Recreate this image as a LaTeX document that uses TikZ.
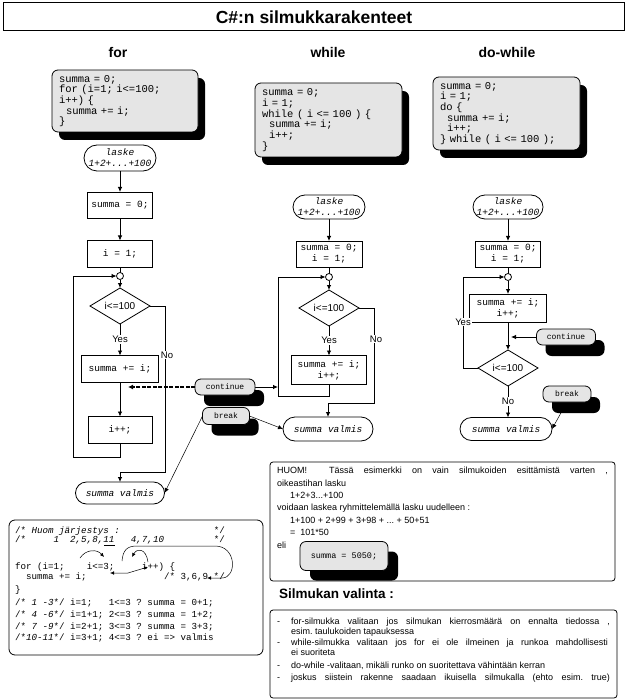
\documentclass[tikz,border=0pt]{standalone}
\usepackage{fontspec}
\setmainfont{Liberation Sans}
\setsansfont{Liberation Sans}
\setmonofont{Liberation Mono}
\usetikzlibrary{shapes.geometric,arrows.meta,shadows}
\pgfdeclarelayer{background}
\pgfsetlayers{background,main}
\definecolor{boxgray}{RGB}{229,229,229}
\frenchspacing
\begin{document}
\begin{tikzpicture}[x=1pt,y=-1pt,
  every node/.style={inner sep=0pt, outer sep=0pt},
  ln/.style={line width=0.8pt},
  arr/.style={ln, -{Latex[length=5pt,width=4.5pt]}},
  thinarr/.style={line width=0.5pt, -{Latex[length=5pt,width=4.5pt]}},
  smallarr/.style={line width=0.5pt, -{Latex[length=4pt,width=3.5pt]}},
  codebox/.style={draw, line width=0.8pt, fill=boxgray, rounded corners=6pt, align=left, inner xsep=7pt,
     font=\ttfamily\fontsize{10.5}{10.7}\selectfont,
     drop shadow={shadow xshift=7pt, shadow yshift=-8pt, fill=black, opacity=1}},
  fbox/.style={draw, line width=0.8pt, fill=white, align=center, font=\ttfamily\fontsize{9.5}{11}\selectfont},
  term/.style={draw, line width=0.8pt, fill=white, align=center, font=\ttfamily\itshape\fontsize{9.5}{11}\selectfont},
  junc/.style={draw, line width=0.8pt, circle, fill=white, minimum size=7pt},
  dec/.style={draw, line width=0.8pt, diamond, fill=white, minimum width=60pt, minimum height=36pt, shape aspect=1.7,
     font=\sffamily\fontsize{10}{10}\selectfont},
  lbl/.style={fill=white, inner sep=1pt, font=\sffamily\fontsize{9.5}{10}\selectfont},
  pill/.style={draw, line width=0.8pt, fill=boxgray, rounded corners=6pt, font=\ttfamily\fontsize{8}{9}\selectfont,
     drop shadow={shadow xshift=9pt, shadow yshift=-11pt, fill=black, opacity=1}},
  txt/.style={anchor=mid west, font=\sffamily\fontsize{9}{10}\selectfont\frenchspacing},
  code/.style={anchor=mid west, font=\ttfamily\fontsize{9.2}{10}\selectfont},
  head/.style={font=\sffamily\bfseries\fontsize{14}{14}\selectfont},
]
\useasboundingbox (0,0) rectangle (628,700);

% title
\node[draw, line width=1pt, minimum width=621pt, minimum height=28pt] (title) at (314,17)
  {\sffamily\bfseries\fontsize{17.5}{18}\selectfont C\#:n silmukkarakenteet};

% headings
\node[head] (hfor) at (118,52) {for};
\node[head] (hwhile) at (328,52) {while};
\node[head] (hdo) at (507,52) {do-while};

% code boxes
\node[codebox, text width=132pt, minimum height=62pt] (cfor) at (125,101)
  {summa = 0;\\for (i=1; i<=100;\\i++) \{\\~~summa += i;\\\}};
\node[codebox, text width=133pt, minimum height=74pt] (cwhile) at (328.5,120)
  {summa = 0;\\i = 1;\\while ( i <= 100 ) \{\\~~summa += i;\\~~i++;\\\}};
\node[codebox, text width=133pt, minimum height=73pt] (cdo) at (506.5,113.5)
  {summa = 0;\\i = 1;\\do \{\\~~summa += i;\\~~i++;\\\} while ( i <= 100 );};

% ---------------- for flowchart
\node[term, minimum width=72pt, minimum height=26pt, rounded corners=13pt] (t1) at (120,158) {laske\\1+2+...+100};
\node[fbox, minimum width=65pt, minimum height=26pt] (s1) at (120,205) {summa = 0;};
\node[fbox, minimum width=65pt, minimum height=27pt] (i1) at (120,254) {i = 1;};
\node[junc] (c1) at (120,276) {};
\node[dec] (d1) at (120,306) {i<=100};
\node[fbox, minimum width=77pt, minimum height=27pt] (b1) at (120,369) {summa += i;};
\node[fbox, minimum width=64pt, minimum height=27pt] (p1) at (120,430) {i++;};
\node[term, minimum width=89pt, minimum height=22pt, rounded corners=11pt] (v1) at (120,493) {summa valmis};
\coordinate (L1) at (73,457);
\coordinate (N1) at (165,472);
\node[lbl] (no1) at (167,355) {No};

% ---------------- while flowchart
\node[term, minimum width=72pt, minimum height=24pt, rounded corners=12pt] (t2) at (329,207) {laske\\1+2+...+100};
\node[fbox, minimum width=66pt, minimum height=26pt] (s2) at (329,254) {summa = 0;\\i = 1;};
\node[junc] (c2) at (329,277) {};
\node[dec] (d2) at (329,308) {i<=100};
\node[fbox, minimum width=75pt, minimum height=29pt] (b2) at (329,370) {summa += i;\\i++;};
\node[term, minimum width=90pt, minimum height=24pt, rounded corners=12pt] (v2) at (328,429) {summa valmis};
\coordinate (L2) at (278,396);
\coordinate (N2) at (374,403);
\coordinate (cw) at (278,387);
\node[lbl] (no2) at (376,339) {No};

% ---------------- do-while flowchart
\node[term, minimum width=70pt, minimum height=24pt, rounded corners=12pt] (t3) at (508,207) {laske\\1+2+...+100};
\node[fbox, minimum width=65pt, minimum height=26pt] (s3) at (508,254) {summa = 0;\\i = 1;};
\node[junc] (c3) at (508,277) {};
\node[fbox, minimum width=77pt, minimum height=28pt] (b3) at (508,308) {summa += i;\\i++;};
\node[dec] (d3) at (508,368) {i<=100};
\node[term, minimum width=92pt, minimum height=23pt, rounded corners=11.5pt] (v3) at (506,429) {summa valmis};
\coordinate (L3) at (463,368);
\coordinate (cw3) at (511,337);
\node[lbl] (yes3) at (463,322) {Yes};

% continue / break
\node[pill, minimum width=60pt, minimum height=16pt] (cont1) at (225,387) {continue};
\node[pill, minimum width=47pt, minimum height=17pt] (brk1) at (226,416) {break};
\node[pill, minimum width=59pt, minimum height=16pt] (cont2) at (566,337) {continue};
\node[pill, minimum width=48pt, minimum height=16pt] (brk2) at (567,394) {break};
\coordinate (ct1) at (128,387);

\begin{pgfonlayer}{background}
  % for
  \draw[arr] (t1.south) -- (s1.north);
  \draw[arr] (s1.south) -- (i1.north);
  \draw[ln] (i1.south) -- (c1.north);
  \draw[arr] (c1.south) -- (d1.north);
  \draw[arr] (d1.south) -- node[lbl] (yes1) {Yes} (b1.north);
  \draw[arr] (b1.south) -- (p1.north);
  \draw[arr] (p1.south) |- (L1) |- (c1.west);
  \draw[arr] (d1.east) -| (N1) -| (v1.north);
  % while
  \draw[arr] (t2.south) -- (s2.north);
  \draw[ln] (s2.south) -- (c2.north);
  \draw[arr] (c2.south) -- (d2.north);
  \draw[arr] (d2.south) -- node[lbl] (yes2) {Yes} (b2.north);
  \draw[arr] (b2.south) |- (L2) |- (c2.west);
  \draw[arr] (d2.east) -| (N2) -| (v2.north);
  % do-while
  \draw[arr] (t3.south) -- (s3.north);
  \draw[ln] (s3.south) -- (c3.north);
  \draw[arr] (c3.south) -- (b3.north);
  \draw[arr] (b3.south) -- (d3.north);
  \draw[arr] (d3.west) -- (L3) |- (c3.west);
  \draw[arr] (d3.south) -- node[lbl] (no3) {No} (d3.south |- v3.north);
  % continue / break
  \draw[line width=1.4pt, dash pattern=on 4pt off 1.5pt, -{Latex[length=5pt,width=5pt]}] (cont1.west) -- (ct1);
  \draw[arr] (cont1.east) -- (cw);
  \draw[thinarr] (brk1.west) -- (v1.east);
  \draw[thinarr] (brk1.east) -- (v2.west);
  \draw[arr] (cont2.west) -- (cw3);
  \draw[thinarr] (brk2.south) -- (v3.east);
\end{pgfonlayer}

% ---------------- bottom-left code box
\node[draw, line width=0.8pt, rounded corners=6pt, minimum width=254pt, minimum height=135pt] (cbox) at (136,587.5) {};
\node[code] (l1) at (15,531) {/* {\itshape Huom järjestys :}~~~~~~~~~~~~~~~~~*/};
\node[code] (l2) at (15,540) {/*~~~~~{\itshape 1}~~{\itshape 2,5,8,11}~~~{\itshape 4,7,10}~~~~~~~~~*/};
\node[code] (l3) at (15,567) {for (i=1;~~~~i<=3;~~~~~i++) \{};
\node[code] (l4) at (15,577) {~~summa += i;~~~~~~~~~~~~~~/* 3,6,9 */};
\node[code] (l5) at (15,590) {\}};
\node[code] (l6) at (15,603) {/* {\itshape 1 -3}*/ i=1;~~~1<=3 ? summa = 0+1;};
\node[code] (l7) at (15,615) {/* {\itshape 4 -6}*/ i=1+1; 2<=3 ? summa = 1+2;};
\node[code] (l8) at (15,627) {/* {\itshape 7 -9}*/ i=2+1; 3<=3 ? summa = 3+3;};
\node[code] (l9) at (15,638) {/*{\itshape 10-11}*/ i=3+1; 4<=3 ? ei => valmis};
\draw[line width=0.5pt] (104,545.5) -- (115,545.5);
\draw[smallarr] (80,558) .. controls (86,549) and (97,549) .. (104,557);
\draw[smallarr] (122,561) .. controls (123,550) and (127,546) .. (137,546) -- (215,546)
   .. controls (237,546) and (237,578) .. (222,578) -- (207,578);
\draw[line width=0.5pt, {Latex[length=4pt,width=3.5pt]}-{Latex[length=4pt,width=3.5pt]}] (110,573) -- (128,573) -- (148,567);
\draw[smallarr] (148,562) .. controls (146,548) and (137,548) .. (132,557);

% ---------------- HUOM box
\node[draw, line width=0.8pt, rounded corners=3pt, minimum width=345pt, minimum height=119pt] (huom) at (442.5,521.5) {};
\node[txt] (h1) at (277,471) {\makebox[331pt][s]{HUOM!\hspace{12pt} Tässä esimerkki on vain silmukoiden esittämistä varten ,}};
\node[txt] (h2) at (277,484) {oikeastihan lasku};
\node[txt] (h3) at (290,496) {1+2+3...+100};
\node[txt] (h4) at (277,508) {voidaan laskea ryhmittelemällä lasku uudelleen :};
\node[txt] (h5) at (290,521) {1+100 + 2+99 + 3+98 + ... + 50+51};
\node[txt] (h6) at (290,533) {=~~101*50};
\node[txt] (h7) at (277,546) {eli};
\node[draw, line width=0.8pt, fill=boxgray, rounded corners=6pt, minimum width=88pt, minimum height=29pt,
  font=\ttfamily\fontsize{8.5}{9}\selectfont,
  drop shadow={shadow xshift=10pt, shadow yshift=-10pt, fill=black, opacity=1}] (s5050) at (344,556) {summa = 5050;};

% ---------------- Silmukan valinta
\node[anchor=mid west, font=\sffamily\bfseries\fontsize{13.5}{14}\selectfont] (valh) at (279,596) {Silmukan valinta :};
\node[draw, line width=0.8pt, rounded corners=3pt, minimum width=347pt, minimum height=88pt] (valbox) at (443.5,654) {};
\node[txt] (bd1) at (277,622) {-};
\node[txt] (bd2) at (277,643) {-};
\node[txt] (bd3) at (277,666) {-};
\node[txt] (bd4) at (277,678) {-};
\node[txt] (bl1) at (291,622) {\makebox[319pt][s]{for-silmukka valitaan jos silmukan kierrosmäärä on ennalta tiedossa ,}};
\node[txt] (bl2) at (291,632) {esim. taulukoiden tapauksessa};
\node[txt] (bl3) at (291,643) {\makebox[317pt][s]{while-silmukka valitaan jos for ei ole ilmeinen ja runkoa mahdollisesti}};
\node[txt] (bl4) at (291,653) {ei suoriteta};
\node[txt] (bl5) at (291,666) {do-while -valitaan, mikäli runko on suoritettava vähintään kerran};
\node[txt] (bl6) at (291,678) {\makebox[319pt][s]{joskus siistein rakenne saadaan ikuisella silmukalla (ehto esim. true)}};
\end{tikzpicture}
\end{document}
